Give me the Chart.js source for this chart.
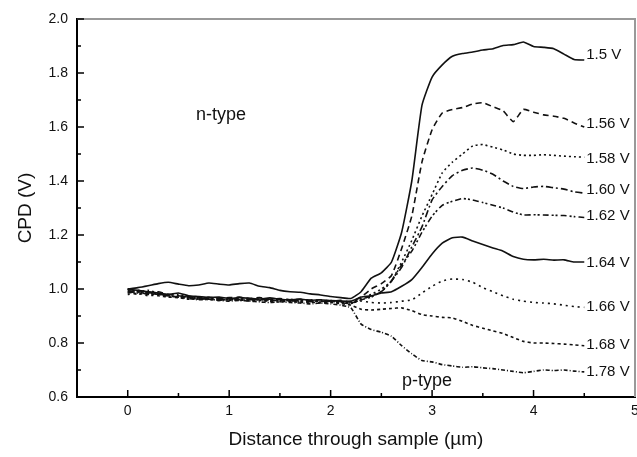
<!DOCTYPE html>
<html>
<head>
<meta charset="utf-8">
<script src="https://cdn.jsdelivr.net/npm/chart.js@4.4.1/dist/chart.umd.min.js"></script>
<style>
  html, body { margin: 0; padding: 0; background: #fff; }
  #chart { display: block; }
</style>
</head>
<body>
<canvas id="chart" width="637" height="457"></canvas>
<script>
// distance through sample (um)
var distance = [0.0, 0.1, 0.2, 0.3, 0.4, 0.5, 0.6, 0.7, 0.8, 0.9, 1.0, 1.1, 1.2, 1.3, 1.4, 1.5,
  1.6, 1.7, 1.8, 1.9, 2.0, 2.1, 2.2, 2.3, 2.4, 2.5, 2.6, 2.7, 2.8, 2.9, 3.0, 3.1, 3.2, 3.3,
  3.4, 3.5, 3.6, 3.7, 3.8, 3.9, 4.0, 4.1, 4.2, 4.3, 4.4, 4.5];

// CPD (V) for each bias
var cpd150 = [1.00, 1.005, 1.012, 1.02, 1.025, 1.018, 1.012, 1.015, 1.022, 1.018, 1.015, 1.02, 1.022, 1.01, 1.005, 0.995,
  0.99, 0.988, 0.982, 0.978, 0.972, 0.968, 0.965, 0.99, 1.04, 1.06, 1.10, 1.21, 1.40, 1.68, 1.785, 1.83, 1.862, 1.872,
  1.878, 1.885, 1.89, 1.902, 1.905, 1.915, 1.898, 1.895, 1.89, 1.87, 1.85, 1.848];
var cpd156 = [0.99, 0.995, 0.985, 0.99, 0.98, 0.975, 0.972, 0.968, 0.97, 0.965, 0.968, 0.97, 0.965, 0.968, 0.962, 0.965,
  0.96, 0.962, 0.958, 0.96, 0.955, 0.958, 0.952, 0.97, 1.0, 1.02, 1.05, 1.15, 1.27, 1.47, 1.59, 1.652, 1.665, 1.672,
  1.685, 1.69, 1.675, 1.66, 1.62, 1.665, 1.655, 1.645, 1.64, 1.632, 1.615, 1.60];
var cpd158 = [1.0, 0.99, 0.995, 0.985, 0.978, 0.98, 0.97, 0.965, 0.962, 0.965, 0.96, 0.962, 0.964, 0.96, 0.963, 0.958,
  0.962, 0.957, 0.96, 0.955, 0.957, 0.952, 0.95, 0.965, 0.98, 1.0, 1.03, 1.10, 1.18, 1.27, 1.35, 1.43, 1.47, 1.50,
  1.53, 1.535, 1.525, 1.515, 1.50, 1.495, 1.495, 1.497, 1.495, 1.492, 1.49, 1.488];
var cpd160 = [0.985, 0.99, 0.98, 0.982, 0.975, 0.97, 0.968, 0.962, 0.966, 0.96, 0.963, 0.965, 0.96, 0.962, 0.958, 0.961,
  0.956, 0.958, 0.953, 0.955, 0.952, 0.954, 0.948, 0.96, 0.975, 0.99, 1.03, 1.08, 1.156, 1.23, 1.33, 1.38, 1.42, 1.44,
  1.448, 1.44, 1.425, 1.40, 1.38, 1.372, 1.378, 1.38, 1.375, 1.37, 1.36, 1.355];
var cpd162 = [0.995, 0.985, 0.99, 0.98, 0.975, 0.97, 0.972, 0.965, 0.962, 0.958, 0.962, 0.96, 0.958, 0.962, 0.96, 0.956,
  0.958, 0.955, 0.957, 0.952, 0.955, 0.95, 0.946, 0.96, 0.97, 0.99, 1.03, 1.09, 1.14, 1.21, 1.27, 1.31, 1.325, 1.335,
  1.33, 1.32, 1.31, 1.30, 1.285, 1.274, 1.275, 1.274, 1.273, 1.272, 1.268, 1.265];
var cpd164 = [1.0, 0.995, 0.99, 0.985, 0.98, 0.985, 0.975, 0.972, 0.968, 0.97, 0.965, 0.968, 0.966, 0.963, 0.967, 0.962,
  0.96, 0.963, 0.958, 0.96, 0.957, 0.955, 0.955, 0.97, 0.975, 0.985, 0.99, 1.01, 1.035, 1.08, 1.13, 1.17, 1.19, 1.192,
  1.178, 1.165, 1.152, 1.14, 1.12, 1.11, 1.108, 1.11, 1.107, 1.108, 1.10, 1.10];
var cpd166 = [0.98, 0.985, 0.975, 0.978, 0.97, 0.972, 0.965, 0.968, 0.962, 0.96, 0.963, 0.958, 0.96, 0.957, 0.955, 0.958,
  0.953, 0.955, 0.952, 0.95, 0.953, 0.95, 0.948, 0.955, 0.95, 0.948, 0.95, 0.955, 0.96, 0.985, 1.01, 1.03, 1.037, 1.035,
  1.025, 1.005, 0.99, 0.975, 0.962, 0.955, 0.95, 0.948, 0.945, 0.94, 0.935, 0.932];
var cpd168 = [0.99, 0.98, 0.985, 0.975, 0.97, 0.968, 0.962, 0.965, 0.96, 0.962, 0.958, 0.96, 0.955, 0.958, 0.955, 0.952,
  0.955, 0.95, 0.952, 0.948, 0.95, 0.946, 0.94, 0.925, 0.922, 0.925, 0.928, 0.93, 0.92, 0.905, 0.90, 0.895, 0.893, 0.88,
  0.865, 0.855, 0.845, 0.835, 0.82, 0.806, 0.80, 0.80, 0.798, 0.796, 0.793, 0.79];
var cpd178 = [1.0, 0.99, 0.985, 0.98, 0.975, 0.97, 0.965, 0.96, 0.962, 0.958, 0.955, 0.958, 0.955, 0.952, 0.95, 0.953,
  0.95, 0.948, 0.945, 0.948, 0.945, 0.94, 0.93, 0.87, 0.85, 0.84, 0.825, 0.79, 0.76, 0.735, 0.73, 0.72, 0.715, 0.71,
  0.712, 0.708, 0.705, 0.70, 0.695, 0.69, 0.695, 0.70, 0.698, 0.70, 0.696, 0.693];

var biasLabels = ["1.5 V", "1.56 V", "1.58 V", "1.60 V", "1.62 V", "1.64 V", "1.66 V", "1.68 V", "1.78 V"];
var biasLabelY = [1.867, 1.611, 1.481, 1.367, 1.27, 1.096, 0.933, 0.793, 0.693];
var xTicks = [0, 1, 2, 3, 4, 5];
var yTicks = [0.6, 0.8, 1.0, 1.2, 1.4, 1.6, 1.8, 2.0];

var series = [cpd150, cpd156, cpd158, cpd160, cpd162, cpd164, cpd166, cpd168, cpd178];
var dashes = [[], [6, 4], [2, 3], [7, 3, 2, 3], [6, 3, 2, 2, 2, 3], [], [2, 4], [3, 3], [4, 2, 1, 2]];

var FONT = "Liberation Sans, Arial, sans-serif";

var datasets = series.map(function (vals, i) {
  return {
    label: biasLabels[i],
    data: vals.map(function (v, j) { return { x: distance[j], y: v }; }),
    borderColor: "#111",
    borderWidth: 1.6,
    borderDash: dashes[i],
    pointRadius: 0,
    tension: 0.15,
    fill: false
  };
});

// inward tick marks, frame, curve labels
var decor = {
  id: "decor",
  afterDraw: function (chart) {
    var ctx = chart.ctx;
    var xs = chart.scales.x, ys = chart.scales.y;
    var a = chart.chartArea;
    ctx.save();
    // top and right frame
    ctx.strokeStyle = "#999";
    ctx.lineWidth = 2;
    ctx.beginPath();
    ctx.moveTo(a.left, a.top);
    ctx.lineTo(a.right, a.top);
    ctx.lineTo(a.right, a.bottom);
    ctx.stroke();
    ctx.strokeStyle = "#000";
    ctx.lineWidth = 1.5;
    ctx.beginPath();
    for (var v = 0.6; v <= 2.0001; v += 0.1) {
      var py = ys.getPixelForValue(v);
      var major = Math.abs(v * 5 - Math.round(v * 5)) < 0.01;
      ctx.moveTo(a.left, py);
      ctx.lineTo(a.left + (major ? 7 : 4), py);
    }
    for (var u = 0; u <= 4.5001; u += 0.5) {
      var px = xs.getPixelForValue(u);
      var maj = Math.abs(u - Math.round(u)) < 0.01;
      ctx.moveTo(px, a.bottom);
      ctx.lineTo(px, a.bottom - (maj ? 7 : 4));
    }
    ctx.stroke();
    // curve labels
    ctx.fillStyle = "#111";
    ctx.font = "15px " + FONT;
    ctx.textBaseline = "middle";
    ctx.textAlign = "left";
    biasLabels.forEach(function (t, i) {
      ctx.fillText(t, xs.getPixelForValue(4.5) + 2, ys.getPixelForValue(biasLabelY[i]));
    });
    ctx.font = "18px " + FONT;
    ctx.textAlign = "center";
    ctx.fillText("n-type", xs.getPixelForValue(0.92), ys.getPixelForValue(1.644));
    ctx.fillText("p-type", xs.getPixelForValue(2.95), ys.getPixelForValue(0.66));
    ctx.restore();
  }
};

new Chart(document.getElementById("chart"), {
  type: "line",
  data: { datasets: datasets },
  options: {
    responsive: false,
    animation: false,
    layout: { padding: { top: 19, right: 2, left: 0, bottom: 0 } },
    plugins: { legend: { display: false }, tooltip: { enabled: false } },
    scales: {
      x: {
        type: "linear",
        min: -0.5,
        max: 5,
        afterBuildTicks: function (s) { s.ticks = xTicks.map(function (v) { return { value: v }; }); },
        afterFit: function (s) { s.height = 60; s.paddingLeft = 0; s.paddingRight = 0; },
        grid: { display: true, drawOnChartArea: false, drawTicks: false },
        border: { display: true, color: "#000", width: 2 },
        ticks: {
          padding: 6,
          color: "#111",
          font: { family: FONT, size: 14 },
          maxRotation: 0
        },
        title: {
          display: true,
          text: "Distance through sample (µm)",
          color: "#111",
          font: { family: FONT, size: 19 },
          padding: { top: 0, bottom: 6 }
        }
      },
      y: {
        type: "linear",
        min: 0.6,
        max: 2.0,
        afterBuildTicks: function (s) { s.ticks = yTicks.map(function (v) { return { value: v }; }); },
        afterFit: function (s) { s.width = 77; s.paddingTop = 0; s.paddingBottom = 0; },
        grid: { display: true, drawOnChartArea: false, drawTicks: false },
        border: { display: true, color: "#000", width: 2 },
        ticks: {
          padding: 9,
          color: "#111",
          font: { family: FONT, size: 14 },
          callback: function (v) { return Number(v).toFixed(1); }
        },
        title: {
          display: true,
          text: "CPD (V)",
          color: "#111",
          font: { family: FONT, size: 19 },
          padding: { top: 14, bottom: 0 }
        }
      }
    }
  },
  plugins: [decor]
});
</script>
</body>
</html>
